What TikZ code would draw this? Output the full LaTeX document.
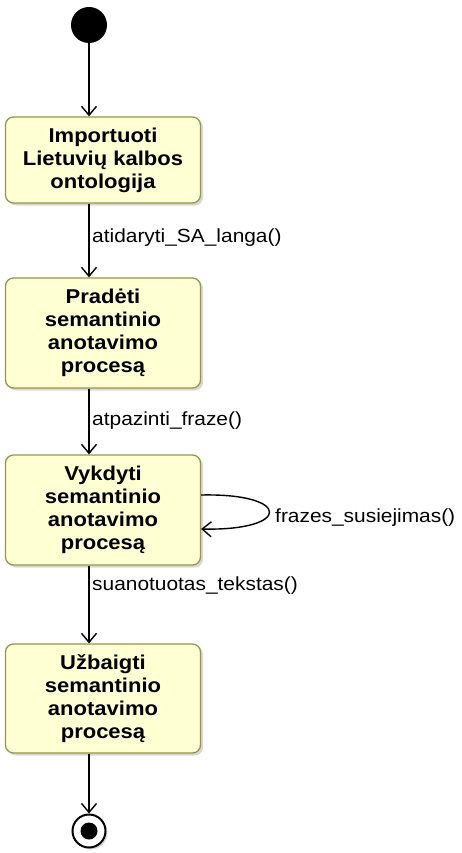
\documentclass[tikz,border=0pt]{standalone}
\usepackage{fontspec}
\setmainfont{Liberation Sans}[FakeStretch=1.1]
\usetikzlibrary{arrows.meta,shadows}
\definecolor{boxfill}{RGB}{255,255,212}
\definecolor{boxline}{RGB}{150,150,70}
\begin{document}
\begin{tikzpicture}[x=1pt,y=-1pt,
  state/.style={draw=boxline, line width=1.3pt, fill=boxfill, rounded corners=8pt,
    minimum width=195pt, align=center, inner sep=2pt,
    font=\bfseries\fontsize{20}{23}\selectfont,
    drop shadow={shadow xshift=2.5pt, shadow yshift=-2.5pt, fill=black!30}},
  flow/.style={line width=1.4pt, -{Straight Barb[length=9pt,width=15pt,line width=1.4pt]}},
  lbl/.style={font=\fontsize{19}{21}\selectfont, anchor=west, inner sep=0pt}]
\useasboundingbox (0,0) rectangle (462,853);

\node[circle, fill=black, minimum size=36pt, inner sep=0pt] (init) at (89,25) {};
\node[state, minimum height=86pt] (s1) at (103,160) {Importuoti\\Lietuvių kalbos\\ontologija};
\node[state, minimum height=110pt] (s2) at (103,333) {Pradėti\\semantinio\\anotavimo\\procesą};
\node[state, minimum height=110pt] (s3) at (103,510) {Vykdyti\\semantinio\\anotavimo\\procesą};
\node[state, minimum height=109pt] (s4) at (103,698.5) {Užbaigti\\semantinio\\anotavimo\\procesą};
\node[circle, draw=black, line width=2pt, fill=white, minimum size=33pt, inner sep=0pt,
  drop shadow={shadow xshift=2pt, shadow yshift=-2pt, fill=black!30}] (fin) at (89,831) {};
\node[circle, fill=black, minimum size=17pt, inner sep=0pt] (fincore) at (fin.center) {};

\draw[flow] (init) -- (init |- s1.north);
\draw[flow] (init |- s1.south) -- (init |- s2.north);
\draw[flow] (init |- s2.south) -- (init |- s3.north);
\draw[flow] (init |- s3.south) -- (init |- s4.north);
\draw[flow] (init |- s4.south) -- (fin.north);
\draw[flow] (s3.east |- 0,495) .. controls (292,493) and (292,531) .. (s3.east |- 0,529);

\node[lbl] (l1) at (92,238) {atidaryti\_SA\_langa()};
\node[lbl] (l2) at (92,421) {atpazinti\_fraze()};
\node[lbl] (l3) at (92,586) {suanotuotas\_tekstas()};
\node[lbl] (l4) at (275,518) {frazes\_susiejimas()};
\end{tikzpicture}
\end{document}
